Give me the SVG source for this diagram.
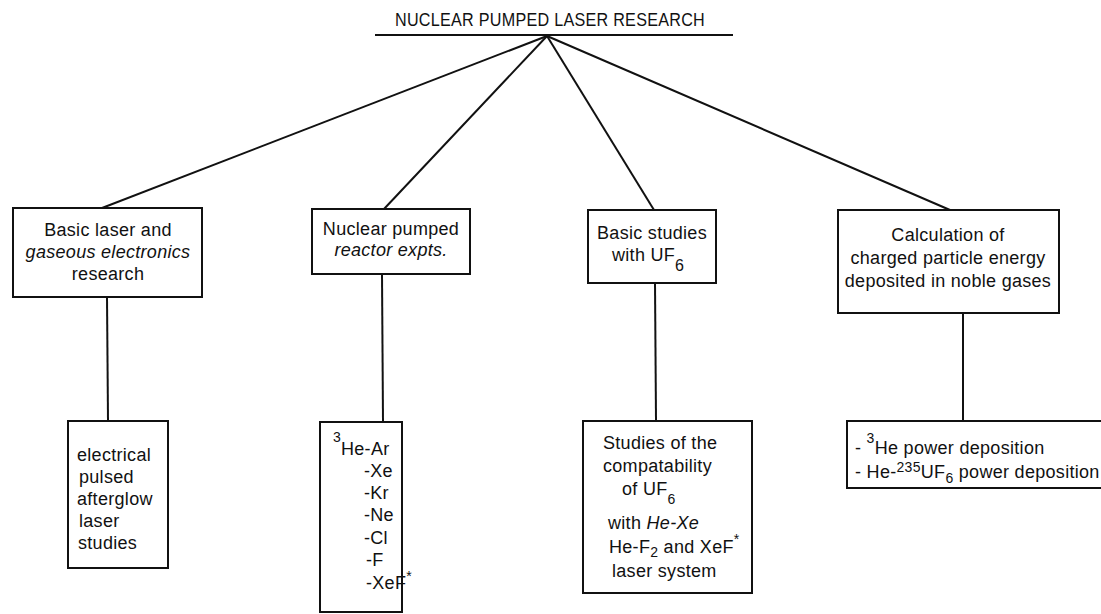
<svg xmlns="http://www.w3.org/2000/svg" width="1101" height="614" viewBox="0 0 1101 614">
<style>
.box{fill:#fff;stroke:#111;stroke-width:2}
.ln{stroke:#111;stroke-width:2;fill:none}
text{font-family:"Liberation Sans","DejaVu Sans",sans-serif;font-size:18px;letter-spacing:0.3px;fill:#111}
.c{text-anchor:middle}
.i{font-style:italic}
.s{font-size:14px}
</style>
<rect width="1101" height="614" fill="#fff"/>
<g id="connectors">
<line class="ln" x1="375" y1="35" x2="733" y2="35"/>
<line class="ln" x1="547" y1="36" x2="102" y2="208"/>
<line class="ln" x1="547" y1="36" x2="384" y2="209"/>
<line class="ln" x1="547" y1="36" x2="654" y2="210"/>
<line class="ln" x1="547" y1="36" x2="950" y2="210"/>
<line class="ln" x1="107" y1="297" x2="108" y2="421"/>
<line class="ln" x1="382" y1="274" x2="383" y2="422"/>
<line class="ln" x1="655" y1="283" x2="656" y2="421"/>
<line class="ln" x1="963" y1="313" x2="963" y2="421"/>
</g>
<g id="title">
<text x="550" y="26" class="c" font-size="17" letter-spacing="0" textLength="310" lengthAdjust="spacingAndGlyphs">NUCLEAR PUMPED LASER RESEARCH</text>
</g>
<g id="basic-laser">
<rect class="box" x="13" y="208" width="189" height="89"/>
<text x="108" y="236" class="c">Basic laser and</text>
<text x="108" y="258" class="c i">gaseous electronics</text>
<text x="108" y="280" class="c">research</text>
</g>
<g id="nuclear-pumped">
<rect class="box" x="312" y="209" width="158" height="65"/>
<text x="391" y="235" class="c">Nuclear pumped</text>
<text x="391" y="256" class="c i">reactor expts.</text>
</g>
<g id="basic-uf6">
<rect class="box" x="588" y="210" width="128" height="73"/>
<text x="652" y="239" class="c">Basic studies</text>
<text x="612" y="261">with  UF<tspan font-size="16" dy="10">6</tspan></text>
</g>
<g id="calculation">
<rect class="box" x="838" y="210" width="221" height="103"/>
<text x="948" y="241" class="c">Calculation of</text>
<text x="948" y="264" class="c">charged particle energy</text>
<text x="948" y="287" class="c">deposited in noble gases</text>
</g>
<g id="afterglow">
<rect class="box" x="68" y="421" width="100" height="147"/>
<text x="77" y="461">electrical</text>
<text x="79" y="483">pulsed</text>
<text x="77" y="505">afterglow</text>
<text x="79" y="527">laser</text>
<text x="78" y="549">studies</text>
</g>
<g id="reactor-list">
<rect class="box" x="320" y="422" width="82" height="190"/>
<text x="333" y="442" class="s">3</text>
<text x="341" y="455">He-Ar</text>
<text x="364" y="477">-Xe</text>
<text x="364" y="499">-Kr</text>
<text x="364" y="521">-Ne</text>
<text x="364" y="544">-Cl</text>
<text x="366" y="566">-F</text>
<text x="366" y="589">-XeF<tspan class="s" dy="-8">*</tspan></text>
</g>
<g id="compatibility">
<rect class="box" x="583" y="421" width="169" height="172"/>
<text x="603" y="449">Studies of the</text>
<text x="603" y="472">compatability</text>
<text x="622" y="495">of  UF<tspan class="s" dy="9">6</tspan></text>
<text x="608" y="529">with <tspan class="i">He-Xe</tspan></text>
<text x="609" y="553">He-F<tspan class="s" dy="4">2</tspan><tspan dy="-4"> and XeF</tspan><tspan class="s" dy="-9">*</tspan></text>
<text x="612" y="577">laser system</text>
</g>
<g id="deposition">
<rect class="box" x="847" y="421" width="260" height="67"/>
<text x="855" y="454">- <tspan class="s" dy="-11">3</tspan><tspan dy="11">He power deposition</tspan></text>
<text x="855" y="478">- He-<tspan class="s" dy="-6">235</tspan><tspan dy="6">UF</tspan><tspan class="s" dy="5">6</tspan><tspan dy="-5"> power deposition</tspan></text>
</g>
</svg>
